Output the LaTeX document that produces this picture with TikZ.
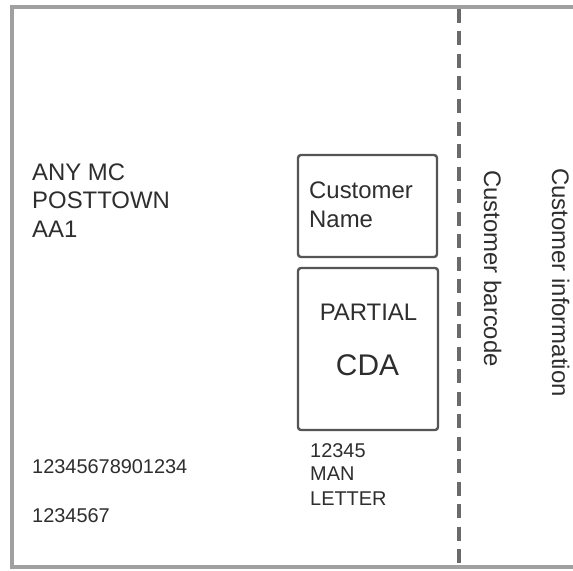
\documentclass[tikz,border=0pt]{standalone}
\usepackage{fontspec}
\setmainfont{Liberation Sans}
\definecolor{txt}{HTML}{2E2E2E}
\definecolor{framec}{HTML}{A0A0A0}
\definecolor{boxc}{HTML}{555555}
\definecolor{dashc}{HTML}{6A6A6A}
\begin{document}
\begin{tikzpicture}[x=1bp,y=-1bp,
  lbl/.style={inner sep=0pt,anchor=base west,text=txt},
  big/.style={font=\fontsize{24}{28}\selectfont},
  small/.style={font=\fontsize{20}{24}\selectfont},
  huge/.style={font=\fontsize{30}{34}\selectfont},
  boxnode/.style={draw=boxc,line width=2.4bp,rounded corners=3bp,inner sep=0pt},
  framel/.style={draw=framec,line width=3.2bp},
  dashline/.style={draw=dashc,line width=3.6bp,dash pattern=on 14bp off 8.5bp}]
\useasboundingbox (0,0) rectangle (573,571);
\fill[white] (0,0) rectangle (573,571);
% frame
\coordinate (ftr) at (573,7);
\coordinate (ftl) at (12,7);
\coordinate (fbl) at (12,567);
\coordinate (fbr) at (573,567);
\draw[framel] (ftr) -- (ftl) -- (fbl) -- (fbr);
% dashed separator
\coordinate (dtop) at (459,9);
\coordinate (dbot) at (459,567);
\draw[dashline] (dtop) -- (dbot);
% boxes
\node[boxnode,minimum width=139bp,minimum height=102bp] (namebox) at (367.5,206) {};
\node[boxnode,minimum width=140bp,minimum height=162bp] (cdabox) at (368,349) {};
% address text
\node[lbl,big] (l1) at (32,180) {ANY MC};
\node[lbl,big] (l2) at (32,208.5) {POSTTOWN};
\node[lbl,big] (l3) at (32,237) {AA1};
% box texts
\node[lbl,big] (cn1) at (309,198) {Customer};
\node[lbl,big] (cn2) at (309,227) {Name};
\node[inner sep=0pt,anchor=base,text=txt,big] (partial) at (368.5,320) {PARTIAL};
\node[inner sep=0pt,anchor=base,text=txt,huge] (cda) at (367.5,375) {CDA};
% numbers
\node[lbl,small] (n1) at (32,473) {12345678901234};
\node[lbl,small] (n2) at (32,522) {1234567};
\node[lbl,small] (m1) at (310,457) {12345};
\node[lbl,small] (m2) at (310,480.5) {MAN};
\node[lbl,small] (m3) at (310,505) {LETTER};
% rotated labels
\node[lbl,big,rotate=-90] (bc) at (484,170) {Customer barcode};
\node[lbl,big,rotate=-90] (ci) at (552,168) {Customer information};
\end{tikzpicture}
\end{document}
